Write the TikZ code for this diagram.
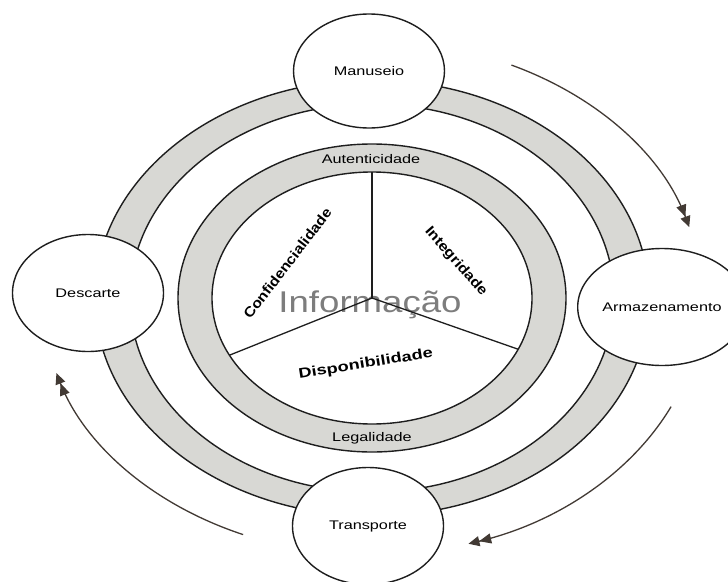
\documentclass[tikz,border=0pt]{standalone}
\usepackage{fontspec}
\setmainfont{Liberation Sans}
\usetikzlibrary{shapes.geometric,arrows.meta,calc}
\definecolor{ringgray}{RGB}{216,216,212}
\definecolor{inkline}{RGB}{30,30,30}
\definecolor{arrowink}{RGB}{66,58,52}
\definecolor{infogray}{RGB}{125,125,125}
% horizontally widened lettering
\newcommand\wide[2][1.3]{\scalebox{#1}[1]{#2}}

\begin{document}
\begin{tikzpicture}[x=1pt,y=-1pt,
  ringline/.style={draw=inkline,line width=1.4pt},
  stage/.style={ellipse,draw=inkline,line width=1.4pt,fill=white,
    minimum width=151pt,minimum height=117pt,inner sep=0pt,
    font=\fontsize{12.5}{15}\selectfont},
  ringlabel/.style={inner sep=0pt,font=\fontsize{12.5}{15}\selectfont},
  pillar/.style={inner sep=0pt,font=\bfseries\fontsize{14}{16}\selectfont},
  spoke/.style={draw=inkline,line width=1.3pt},
  cyclearrow/.style={draw=arrowink,line width=1.3pt,
    -{Triangle[length=12pt,width=10pt,fill=arrowink]Triangle[length=11pt,width=10pt,fill=arrowink]}}
]
\useasboundingbox (0,0) rectangle (728,581);
\fill[white] (0,0) rectangle (728,581);

\coordinate (c) at (372,298);

% outer life-cycle ring
\fill[ringgray,even odd rule] (c) ellipse[x radius=277,y radius=218]
                              (c) ellipse[x radius=242,y radius=194];
\draw[ringline] (c) ellipse[x radius=277,y radius=218];
\draw[ringline] (c) ellipse[x radius=242,y radius=194];

% inner ring
\fill[ringgray,even odd rule] (c) ellipse[x radius=194,y radius=154]
                              (c) ellipse[x radius=160,y radius=126];
\draw[ringline] (c) ellipse[x radius=194,y radius=154];
\draw[ringline] (c) ellipse[x radius=160,y radius=126];

% stages of the cycle
\node[stage,minimum height=114pt] (man) at (369,71) {\wide{Manuseio}};
\node[stage] (arm) at (662,307) {\wide{Armazenamento}};
\node[stage] (tra) at (368,526) {\wide{Transporte}};
\node[stage] (des) at (88,293) {\wide{Descarte}};

% ring labels
\node[ringlabel] (aut) at (371,159) {\wide{Autenticidade}};
\node[ringlabel] (leg) at (372,438) {\wide{Legalidade}};

% centre word
\node[inner sep=0pt,anchor=base,text=infogray,font=\fontsize{30}{36}\selectfont]
  (info) at (370,312) {\wide[1.22]{Informação}};

% three sectors
\coordinate (sT) at ($(c)+(-90:160 and 126)$);
\coordinate (sL) at ($(c)+(153:160 and 126)$);
\coordinate (sR) at ($(c)+(24:160 and 126)$);
\draw[spoke] (c) -- (sT);
\draw[spoke] (c) -- (sL);
\draw[spoke] (c) -- (sR);

\node[pillar,rotate=52.6] (conf) at (287.5,263.3) {\wide[1.12]{Confidencialidade}};
\node[pillar,rotate=-48.8] (integ) at (455.8,261.7) {\wide[1.15]{Integridade}};
\node[pillar,rotate=9.1] (disp) at (365.8,364.2) {\wide{Disponibilidade}};

% direction of the cycle
\coordinate (a1) at ($(c)+(-65:330 and 257)$);
\coordinate (a2) at ($(c)+(25:330 and 257)$);
\coordinate (a3) at ($(c)+(113:330 and 257)$);
\draw[cyclearrow] (a1) arc[start angle=-65,end angle=-16,x radius=330,y radius=257];
\draw[cyclearrow] (a2) arc[start angle=25,end angle=73,x radius=330,y radius=257];
\draw[cyclearrow] (a3) arc[start angle=113,end angle=163,x radius=330,y radius=257];
\end{tikzpicture}
\end{document}
